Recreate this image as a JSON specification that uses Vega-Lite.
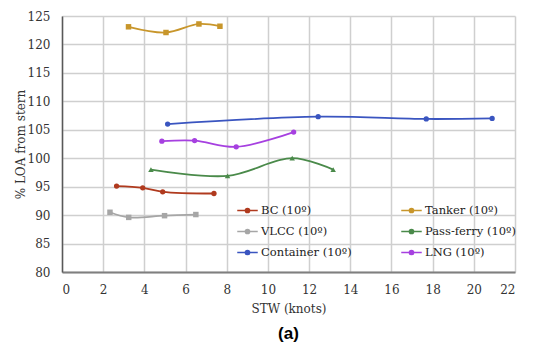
{
  "$schema": "https://vega.github.io/schema/vega-lite/v6.json",
  "width": 453,
  "height": 256,
  "autosize": {"type": "none"},
  "padding": {"left": 62, "top": 16, "right": 35, "bottom": 76},
  "background": "white",
  "title": {"text": "(a)", "orient": "bottom", "anchor": "middle", "font": "Liberation Sans", "fontSize": 17, "fontWeight": "bold", "color": "#000000", "offset": 12},
  "config": {
    "font": "DejaVu Serif",
    "view": {"stroke": null},
    "axis": {"grid": true, "gridColor": "#d4d4d4", "gridOpacity": 1, "gridWidth": 1.5, "labelFont": "DejaVu Serif", "titleFont": "DejaVu Serif"}
  },
  "data": {"values": [
    {"Series": "BC (10º)", "STW": 2.65, "LOA": 95.1},
    {"Series": "BC (10º)", "STW": 3.92, "LOA": 94.8},
    {"Series": "BC (10º)", "STW": 4.89, "LOA": 94.1},
    {"Series": "BC (10º)", "STW": 7.38, "LOA": 93.8},
    {"Series": "Tanker (10º)", "STW": 3.23, "LOA": 123.1},
    {"Series": "Tanker (10º)", "STW": 5.05, "LOA": 122.1},
    {"Series": "Tanker (10º)", "STW": 6.65, "LOA": 123.6},
    {"Series": "Tanker (10º)", "STW": 7.67, "LOA": 123.2},
    {"Series": "VLCC (10º)", "STW": 2.33, "LOA": 90.5},
    {"Series": "VLCC (10º)", "STW": 3.24, "LOA": 89.6},
    {"Series": "VLCC (10º)", "STW": 4.98, "LOA": 89.9},
    {"Series": "VLCC (10º)", "STW": 6.5, "LOA": 90.1},
    {"Series": "Pass-ferry (10º)", "STW": 4.32, "LOA": 98.0},
    {"Series": "Pass-ferry (10º)", "STW": 8.04, "LOA": 96.9},
    {"Series": "Pass-ferry (10º)", "STW": 11.18, "LOA": 100.0},
    {"Series": "Pass-ferry (10º)", "STW": 13.17, "LOA": 98.0},
    {"Series": "Container (10º)", "STW": 5.13, "LOA": 106.0},
    {"Series": "Container (10º)", "STW": 12.44, "LOA": 107.3},
    {"Series": "Container (10º)", "STW": 17.69, "LOA": 106.9},
    {"Series": "Container (10º)", "STW": 20.89, "LOA": 107.0},
    {"Series": "LNG (10º)", "STW": 4.85, "LOA": 103.0},
    {"Series": "LNG (10º)", "STW": 6.44, "LOA": 103.1},
    {"Series": "LNG (10º)", "STW": 8.46, "LOA": 102.0},
    {"Series": "LNG (10º)", "STW": 11.25, "LOA": 104.6}
  ]},
  "encoding": {
    "x": {"field": "STW", "type": "quantitative", "title": "STW (knots)",
      "scale": {"domain": [0, 22], "nice": false},
      "axis": {"tickCount": 11, "grid": true, "gridColor": "#cfcfcf", "gridOpacity": 1, "gridWidth": 1.5, "ticks": false, "labelPadding": 12, "titlePadding": 8, "domainColor": "#7f7f7f", "domainWidth": 2,
        "labelFont": "DejaVu Serif", "titleFont": "DejaVu Serif", "labelFontSize": 12, "titleFontSize": 12, "labelColor": "#333333", "titleColor": "#333333", "titleFontWeight": "normal"}},
    "y": {"field": "LOA", "type": "quantitative", "title": "% LOA from stern",
      "scale": {"domain": [80, 125], "nice": false, "zero": false},
      "axis": {"tickCount": 9, "grid": true, "gridColor": "#cfcfcf", "gridOpacity": 1, "gridWidth": 1.5, "ticks": false, "labelPadding": 12, "titlePadding": 0, "domainColor": "#595959", "domainWidth": 1.5,
        "labelFont": "DejaVu Serif", "titleFont": "DejaVu Serif", "labelFontSize": 12, "titleFontSize": 12, "labelColor": "#333333", "titleColor": "#333333", "titleFontWeight": "normal"}},
    "color": {"field": "Series", "type": "nominal",
      "scale": {"domain": ["BC (10º)", "Tanker (10º)", "VLCC (10º)", "Pass-ferry (10º)", "Container (10º)", "LNG (10º)"],
                "range": ["#b03a1e", "#c8962b", "#a6a6a6", "#4a8a4a", "#3a55c0", "#a640e0"]},
      "legend": {"orient": "none", "legendX": 174, "legendY": 183, "columns": 2, "direction": "horizontal", "columnPadding": 46, "rowPadding": 4, "title": null,
        "symbolType": "M-1,0H1M0.2,0A0.2,0.2,0,1,1,-0.2,0A0.2,0.2,0,1,1,0.2,0", "symbolSize": 420, "symbolStrokeWidth": 1.6, "symbolOffset": 0,
        "labelFont": "DejaVu Serif", "labelFontSize": 11.5, "labelColor": "#222222", "labelOffset": 2}}
  },
  "layer": [
    {"mark": {"type": "line", "interpolate": "catmull-rom", "strokeWidth": 1.8}},
    {"transform": [{"filter": {"field": "Series", "oneOf": ["BC (10º)", "Container (10º)", "LNG (10º)"]}}],
     "mark": {"type": "point", "shape": "circle", "filled": true, "size": 28, "opacity": 1}},
    {"transform": [{"filter": {"field": "Series", "oneOf": ["Tanker (10º)", "VLCC (10º)"]}}],
     "mark": {"type": "point", "shape": "square", "filled": true, "size": 30, "opacity": 1}},
    {"transform": [{"filter": {"field": "Series", "oneOf": ["Pass-ferry (10º)"]}}],
     "mark": {"type": "point", "shape": "triangle-up", "filled": true, "size": 30, "opacity": 1}}
  ]
}
